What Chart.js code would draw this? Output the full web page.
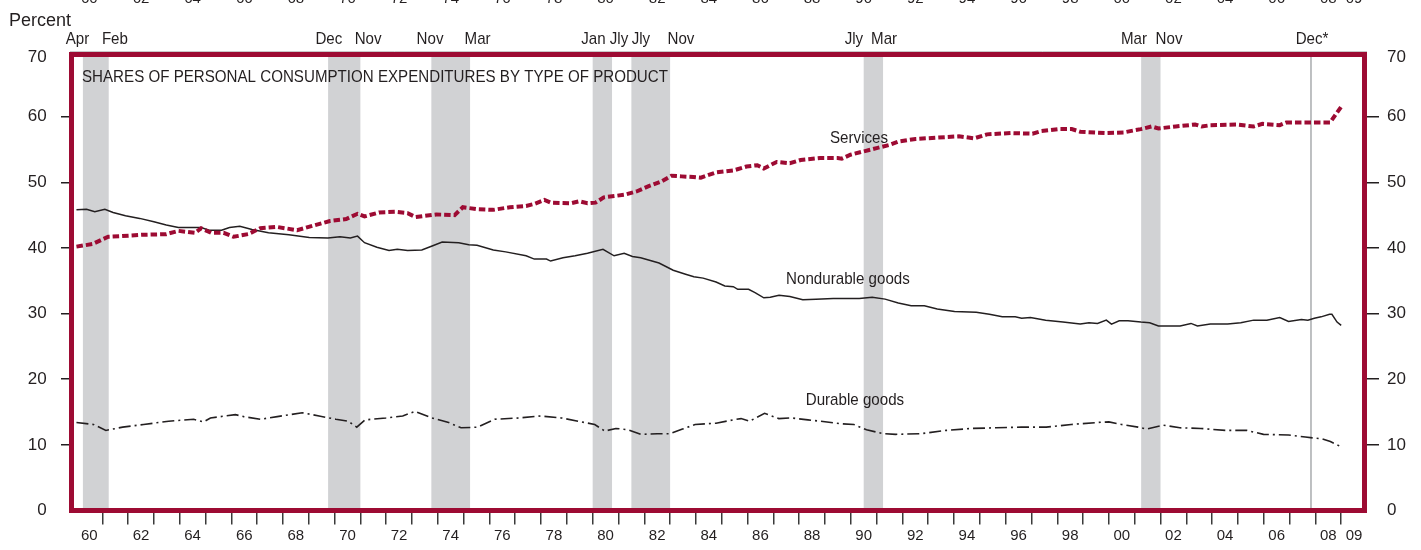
<!DOCTYPE html>
<html>
<head>
<meta charset="utf-8">
<title>Shares of personal consumption expenditures by type of product</title>
<script src="https://cdn.jsdelivr.net/npm/chart.js@4.4.1/dist/chart.umd.min.js"></script>
<style>
    html, body { margin: 0; padding: 0; background: #fff; }
    #wrap { width: 1421px; height: 550px; }
</style>
</head>
<body>
<div id="wrap"><canvas id="pceChart" width="1421" height="550"></canvas></div>
<script>
// Services share (percent)
const servicesX = [1960.0, 1960.63, 1961.23, 1961.74, 1962.53, 1963.48, 1963.95, 1964.59, 1964.83, 1965.22,
    1965.7, 1966.09, 1966.65, 1967.12, 1967.76, 1968.55, 1969.18, 1969.82, 1970.45, 1970.89,
    1971.16, 1971.72, 1972.35, 1972.83, 1973.14, 1973.94, 1974.65, 1974.97, 1975.52, 1976.15,
    1976.79, 1977.42, 1977.74, 1978.13, 1978.37, 1979.16, 1979.48, 1979.8, 1980.11, 1980.43,
    1981.22, 1981.7, 1982.17, 1982.65, 1983.05, 1983.44, 1983.9, 1984.19, 1984.78, 1985.45,
    1985.96, 1986.38, 1986.63, 1987.13, 1987.64, 1988.06, 1988.81, 1989.49, 1989.65, 1989.99,
    1990.49, 1991.0, 1991.5, 1991.84, 1992.51, 1993.35, 1994.19, 1994.78, 1995.28, 1996.2,
    1997.04, 1997.38, 1998.05, 1998.56, 1998.89, 1999.9, 2000.57, 2001.24, 2001.66, 2001.92,
    2002.59, 2003.34, 2003.6, 2003.93, 2004.94, 2005.61, 2005.95, 2006.62, 2006.87, 2007.8,
    2008.57, 2008.8, 2009.0];
const servicesY = [40.2, 40.6, 41.7, 41.8, 42.0, 42.1, 42.6, 42.3, 43.0, 42.3,
    42.3, 41.7, 42.1, 43.0, 43.2, 42.7, 43.4, 44.1, 44.4, 45.2,
    44.8, 45.4, 45.5, 45.3, 44.7, 45.1, 45.0, 46.2, 45.9, 45.8,
    46.2, 46.4, 46.7, 47.3, 46.9, 46.8, 47.1, 46.8, 46.9, 47.7,
    48.1, 48.6, 49.4, 50.1, 51.0, 50.9, 50.8, 50.7, 51.5, 51.8,
    52.4, 52.6, 52.1, 53.1, 52.9, 53.4, 53.7, 53.7, 53.6, 54.2,
    54.7, 55.2, 55.7, 56.2, 56.6, 56.8, 57.0, 56.7, 57.3, 57.5,
    57.4, 57.8, 58.1, 58.1, 57.7, 57.5, 57.6, 58.1, 58.5, 58.2,
    58.5, 58.8, 58.5, 58.7, 58.8, 58.5, 58.9, 58.7, 59.1, 59.1,
    59.1, 60.4, 61.5];

// Nondurable goods share
const nondurableX = [1960.0, 1960.39, 1960.71, 1961.1, 1961.42, 1961.9, 1962.45, 1963.0, 1963.48, 1963.95,
    1964.83, 1965.14, 1965.62, 1965.93, 1966.33, 1966.8, 1967.44, 1968.23, 1969.02, 1969.74,
    1970.21, 1970.61, 1970.89, 1971.16, 1971.64, 1972.11, 1972.43, 1972.83, 1973.38, 1973.78,
    1974.17, 1974.81, 1975.2, 1975.52, 1976.15, 1976.63, 1977.42, 1977.74, 1978.21, 1978.37,
    1978.85, 1979.32, 1979.8, 1980.4, 1980.83, 1981.22, 1981.54, 1981.86, 1982.57, 1983.12,
    1983.6, 1983.92, 1984.28, 1984.78, 1985.12, 1985.45, 1985.62, 1986.04, 1986.29, 1986.63,
    1986.88, 1987.22, 1987.64, 1988.14, 1988.65, 1989.32, 1990.33, 1990.83, 1991.33, 1991.84,
    1992.34, 1992.85, 1993.35, 1994.02, 1994.86, 1995.37, 1995.87, 1996.37, 1996.62, 1996.96,
    1997.55, 1998.22, 1998.89, 1999.23, 1999.56, 1999.9, 2000.1, 2000.4, 2000.74, 2001.24,
    2001.58, 2001.92, 2002.42, 2002.76, 2003.18, 2003.43, 2003.93, 2004.6, 2005.11, 2005.61,
    2006.12, 2006.62, 2006.96, 2007.46, 2007.71, 2007.96, 2008.22, 2008.55, 2008.64, 2008.84,
    2009.0];
const nondurableY = [45.8, 45.9, 45.5, 45.9, 45.4, 44.9, 44.5, 44.0, 43.5, 43.1,
    43.1, 42.7, 42.7, 43.1, 43.3, 42.8, 42.3, 42.0, 41.6, 41.5,
    41.7, 41.5, 41.8, 40.8, 40.1, 39.6, 39.8, 39.6, 39.7, 40.3,
    40.9, 40.8, 40.5, 40.4, 39.7, 39.4, 38.8, 38.3, 38.3, 38.0,
    38.5, 38.8, 39.2, 39.8, 38.8, 39.2, 38.7, 38.5, 37.7, 36.6,
    36.0, 35.6, 35.4, 34.8, 34.2, 34.1, 33.7, 33.7, 33.2, 32.4,
    32.5, 32.8, 32.6, 32.1, 32.2, 32.3, 32.3, 32.5, 32.2, 31.6,
    31.2, 31.2, 30.7, 30.3, 30.2, 29.9, 29.5, 29.5, 29.3, 29.4,
    29.0, 28.7, 28.4, 28.6, 28.5, 29.0, 28.4, 28.9, 28.9, 28.7,
    28.6, 28.1, 28.1, 28.1, 28.5, 28.1, 28.4, 28.4, 28.6, 29.0,
    29.0, 29.4, 28.8, 29.1, 29.0, 29.3, 29.5, 29.9, 29.9, 28.7,
    28.2];

// Durable goods share
const durableX = [1960.0, 1960.66, 1961.14, 1961.79, 1962.6, 1963.57, 1964.54, 1964.93, 1965.19, 1966.16,
    1966.48, 1967.13, 1967.78, 1968.75, 1969.4, 1970.05, 1970.53, 1970.86, 1971.18, 1971.99,
    1972.64, 1973.12, 1973.77, 1974.42, 1974.9, 1975.55, 1976.2, 1977.17, 1977.98, 1978.79,
    1979.44, 1980.08, 1980.47, 1980.9, 1981.38, 1981.87, 1982.51, 1983.0, 1983.48, 1983.97,
    1984.78, 1985.43, 1985.75, 1986.08, 1986.66, 1987.21, 1987.7, 1988.34, 1988.83, 1989.64,
    1990.12, 1990.61, 1991.26, 1991.74, 1992.72, 1993.69, 1994.66, 1995.63, 1996.6, 1997.57,
    1998.54, 1999.52, 2000.0, 2000.49, 2001.13, 2001.46, 2002.11, 2002.75, 2003.56, 2004.53,
    2005.34, 2005.99, 2006.96, 2007.61, 2008.26, 2008.58, 2009.0];
const durableY = [13.4, 13.1, 12.2, 12.7, 13.1, 13.6, 13.9, 13.5, 14.1, 14.6,
    14.3, 13.9, 14.3, 14.9, 14.4, 13.9, 13.6, 12.7, 13.8, 14.1,
    14.4, 15.1, 14.1, 13.4, 12.6, 12.7, 13.9, 14.1, 14.4, 14.1,
    13.6, 13.1, 12.1, 12.5, 12.3, 11.6, 11.7, 11.7, 12.4, 13.1,
    13.3, 13.8, 14.0, 13.6, 14.8, 14.0, 14.1, 13.8, 13.6, 13.2,
    13.1, 12.3, 11.7, 11.6, 11.7, 12.2, 12.5, 12.6, 12.7, 12.7,
    13.1, 13.4, 13.5, 13.1, 12.7, 12.4, 13.0, 12.6, 12.5, 12.2,
    12.2, 11.6, 11.5, 11.2, 10.9, 10.5, 9.7];

// Recessions (shaded, by quarter) and their peak / trough month labels
const recessionStart = [1960.25, 1969.75, 1973.75, 1980.0, 1981.5, 1990.5, 2001.25];
const recessionEnd = [1961.25, 1971.0, 1975.25, 1980.75, 1983.0, 1991.25, 2002.0];
const monthLabels = ['Apr', 'Feb', 'Dec', 'Nov', 'Nov', 'Mar', 'Jan', 'Jly', 'Jly', 'Nov', 'Jly', 'Mar', 'Mar', 'Nov', 'Dec*'];
const monthLabelYears = [1960.04, 1961.49, 1969.78, 1971.30, 1973.70, 1975.54, 1980.03, 1981.02, 1981.87, 1983.42,
    1990.12, 1991.29, 2000.97, 2002.33, 2007.87];
const latestPeak = 2007.83;

// Year labels on the time axis
const xLabelYears = [1960, 1962, 1964, 1966, 1968, 1970, 1972, 1974, 1976, 1978, 1980, 1982, 1984, 1986,
    1988, 1990, 1992, 1994, 1996, 1998, 2000, 2002, 2004, 2006, 2008, 2009];
const xTickLabels = ['60', '62', '64', '66', '68', '70', '72', '74', '76', '78', '80', '82', '84', '86',
    '88', '90', '92', '94', '96', '98', '00', '02', '04', '06', '08', '09'];

const FONT = '"Liberation Sans", Arial, Helvetica, sans-serif';
const INK = '#231f20';
const CRIMSON = '#9d0b33';
const SQUEEZE = 0.89; // the source type is a narrow Helvetica

(function() {
    'use strict';

    function toPoints(xs, ys) {
        return xs.map((x, i) => ({ x: x, y: ys[i] }));
    }

    function drawText(ctx, text, px, py, size, align, squeeze) {
        ctx.save();
        ctx.font = size + 'px ' + FONT;
        ctx.textAlign = align || 'left';
        ctx.textBaseline = 'alphabetic';
        ctx.translate(px, py);
        ctx.scale(squeeze || 1, 1);
        ctx.fillText(text, 0, 0);
        ctx.restore();
    }

    // Shading, frame and the free text of the chart
    const decorPlugin = {
        id: 'pceDecor',
        beforeDatasetsDraw(chart) {
            const { ctx, chartArea: a, scales: { x } } = chart;
            ctx.save();
            ctx.fillStyle = '#d1d2d4';
            recessionStart.forEach((s, i) => {
                const x0 = x.getPixelForValue(s);
                const x1 = x.getPixelForValue(recessionEnd[i]);
                ctx.fillRect(x0, a.top, x1 - x0, a.bottom - a.top);
            });
            // latest business cycle peak
            const xp = x.getPixelForValue(latestPeak);
            ctx.strokeStyle = '#a9abae';
            ctx.lineWidth = 1.5;
            ctx.beginPath();
            ctx.moveTo(xp, a.top);
            ctx.lineTo(xp, a.bottom);
            ctx.stroke();
            ctx.restore();
        },
        afterDatasetsDraw(chart) {
            const { ctx, chartArea: a, scales: { x, y } } = chart;
            ctx.save();

            // thin rule above the frame
            ctx.strokeStyle = '#c9c9c9';
            ctx.lineWidth = 1;
            ctx.beginPath();
            ctx.moveTo(a.left, a.top + 0.5);
            ctx.lineTo(a.right, a.top + 0.5);
            ctx.stroke();

            // frame
            ctx.strokeStyle = CRIMSON;
            ctx.lineWidth = 5;
            ctx.lineJoin = 'miter';
            ctx.strokeRect(a.left + 1.5, a.top + 3.5, (a.right - 2.5) - (a.left + 1.5), a.bottom - (a.top + 3.5));

            ctx.fillStyle = INK;
            drawText(ctx, 'SHARES OF PERSONAL CONSUMPTION EXPENDITURES BY TYPE OF PRODUCT', a.left + 12, a.top + 30.5, 17, 'left', SQUEEZE);
            drawText(ctx, 'Percent', 9, 25.5, 18);

            // series names
            drawText(ctx, 'Services', x.getPixelForValue(1990.32), y.getPixelForValue(56.0), 17, 'center', SQUEEZE);
            drawText(ctx, 'Nondurable goods', x.getPixelForValue(1989.89), y.getPixelForValue(34.5), 17, 'center', SQUEEZE);
            drawText(ctx, 'Durable goods', x.getPixelForValue(1990.16), y.getPixelForValue(16.0), 17, 'center', SQUEEZE);

            // peak / trough months
            monthLabels.forEach((m, i) => {
                drawText(ctx, m, x.getPixelForValue(monthLabelYears[i]), 44, 17, 'center', SQUEEZE);
            });

            // top value of both axes sits just under the frame line
            const y70 = y.getPixelForValue(70) + 10.5;
            drawText(ctx, '70', a.left - 23.3, y70, 17, 'right');
            drawText(ctx, '70', a.right + 20, y70, 17, 'left');

            // year labels of the panel above, cut by the page edge
            xLabelYears.forEach((yr, i) => {
                drawText(ctx, xTickLabels[i], x.getPixelForValue(yr + 0.5), 3, 15, 'center');
            });
            ctx.restore();
        }
    };

    const yearTicks = [];
    for (let yr = 1961; yr <= 2010; yr++) yearTicks.push(yr);

    function yAxis(position, tickLength, padding, width) {
        return {
            type: 'linear',
            position: position,
            min: 0,
            max: 70,
            border: { display: false },
            grid: {
                drawOnChartArea: false,
                tickLength: tickLength,
                lineWidth: 1.5,
                color: c => (c.tick && (c.tick.value === 0 || c.tick.value === 70)) ? 'rgba(0,0,0,0)' : INK
            },
            ticks: {
                stepSize: 10,
                padding: padding,
                color: INK,
                font: { size: 17, family: FONT },
                callback: v => v === 70 ? '' : String(v)
            },
            afterFit: s => { s.width = width; }
        };
    }

    const ctx = document.getElementById('pceChart');
    new Chart(ctx, {
        type: 'line',
        data: {
            datasets: [
                {
                    label: 'Services',
                    data: toPoints(servicesX, servicesY),
                    borderColor: CRIMSON,
                    borderWidth: 4,
                    borderDash: [6.5, 3],
                    borderCapStyle: 'butt'
                },
                {
                    label: 'Nondurable goods',
                    data: toPoints(nondurableX, nondurableY),
                    borderColor: INK,
                    borderWidth: 1.5
                },
                {
                    label: 'Durable goods',
                    data: toPoints(durableX, durableY),
                    borderColor: INK,
                    borderWidth: 1.6,
                    borderDash: [12, 4, 2, 4]
                }
            ]
        },
        options: {
            responsive: false,
            animation: false,
            events: [],
            elements: {
                point: { radius: 0 },
                line: { tension: 0, fill: false }
            },
            layout: { padding: { top: 51, left: 0, right: 0, bottom: 0 } },
            plugins: {
                legend: { display: false },
                tooltip: { enabled: false }
            },
            scales: {
                x: {
                    type: 'linear',
                    min: 1959.75,
                    max: 2010,
                    border: { display: false },
                    afterBuildTicks: s => { s.ticks = yearTicks.map(v => ({ value: v })); },
                    grid: {
                        drawOnChartArea: false,
                        tickLength: 14,
                        lineWidth: 1.5,
                        color: c => (c.tick && c.tick.value === 2010) ? 'rgba(0,0,0,0)' : '#3a3a3a'
                    },
                    ticks: {
                        autoSkip: false,
                        maxRotation: 0,
                        labelOffset: -12.9,
                        padding: 2,
                        color: INK,
                        font: { size: 15, family: FONT },
                        callback: v => {
                            const i = xLabelYears.indexOf(v - 1);
                            return i >= 0 ? xTickLabels[i] : '';
                        }
                    },
                    afterFit: s => { s.height = 39.5; }
                },
                y: yAxis('left', 9, 14.3, 70),
                y2: yAxis('right', 12, 8, 54)
            }
        },
        plugins: [decorPlugin]
    });
})();
</script>
</body>
</html>
